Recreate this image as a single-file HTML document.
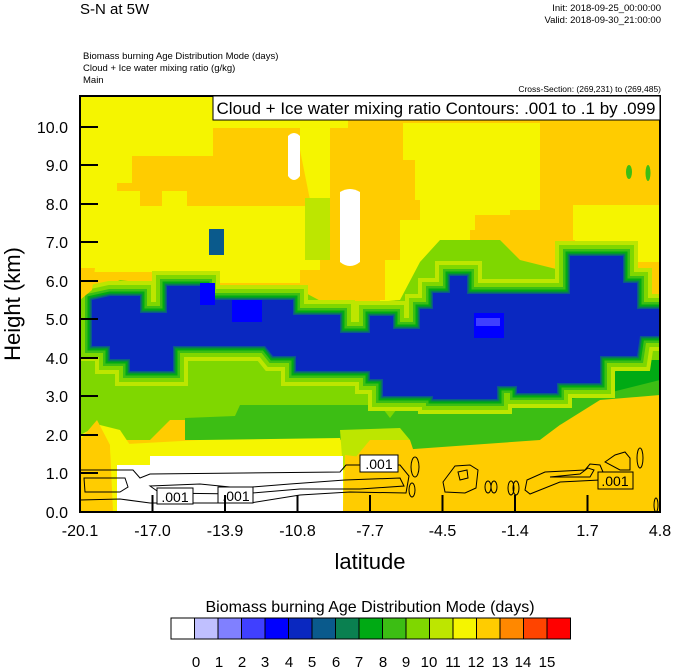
<!DOCTYPE html>
<html><head><meta charset="utf-8"><style>
html,body{margin:0;padding:0;background:#fff;}
svg{display:block;font-family:"Liberation Sans",sans-serif;}
</style></head><body>
<svg width="674" height="668" viewBox="0 0 674 668" xmlns="http://www.w3.org/2000/svg">
<defs><clipPath id="pc"><rect x="80" y="96" width="580" height="416"/></clipPath>
<path id="b" d="M92 316L92 300L110 296L140 296L140 313L167 313L167 286L205 286L205 300L293 300L293 315L340 315L340 333L370 333L370 316L393 316L393 329L420 329L420 309L433 309L433 293L450 293L450 276L467 276L467 294L570 294L570 256L623 256L623 283L637 283L637 309L660 309L660 336L640 336L637 356L600 356L600 383L557 383L557 393L517 393L517 386L497 386L497 399L433 399L433 396L383 396L383 379L370 379L370 371L296 371L296 356L273 356L265 346L173 346L173 371L130 371L130 359L110 359L110 346L92 346Z"/>
</defs>
<text x="80" y="14" font-size="15">S-N at 5W</text>
<text x="661" y="11" font-size="9.5" text-anchor="end">Init: 2018-09-25_00:00:00</text>
<text x="661" y="23" font-size="9.5" text-anchor="end">Valid: 2018-09-30_21:00:00</text>
<text x="83" y="59" font-size="9.5">Biomass burning Age Distribution Mode   (days)</text>
<text x="83" y="71" font-size="9.5">Cloud + Ice water mixing ratio   (g/kg)</text>
<text x="83" y="83" font-size="9.5">Main</text>
<text x="661" y="92" font-size="8.5" text-anchor="end">Cross-Section: (269,231) to (269,485)</text>

<g clip-path="url(#pc)">
<rect x="80" y="96" width="580" height="416" fill="#ffcc00"/>
<path fill="#f5f500" d="M80 96H348V126H300V128H213V156H132V183H117V191H140V206H162V191H187V206H307V230H320V270H300V283H180V272H80Z"/>
<path fill="#f5f500" d="M290 96H348V128H330V150H300V126Z"/>
<path fill="#f5f500" d="M300 150H330V240H318Z"/>
<path fill="#f5f500" d="M403 123H540V210H510V215H475V230H470V250H440V262H420V300H395V330H380V300H385V260H400V220H420V200H415V160H403Z"/>
<path fill="#f5f500" d="M573 205H660V262H575V240H573Z"/>
<path fill="#bde600" d="M305 198H330V260H305Z"/>
<path d="M80 320L80 440L150 440L170 420L370 420L380 410L400 440L440 440L540 430L560 410L600 400L610 380L660 370L660 330L640 330L600 320L560 270L520 260L500 240L440 240L420 262L400 300L330 306L300 290L260 286L200 290L120 280L80 300Z" fill="#7fd700"/>
<path d="M185 418L235 416L240 405L380 405L390 418L400 405L420 400L440 410L480 408L520 400L560 398L600 390L620 375L660 372L660 400L600 410L560 425L540 440L470 445L400 450L370 440L185 440Z" fill="#3cbe14"/>
<path d="M520 383L600 383L630 360L660 360L660 380L600 395L560 400L520 395Z" fill="#00aa14"/>
<use href="#b" fill="none" stroke="#bde600" stroke-width="30"/>
<use href="#b" fill="none" stroke="#7fd700" stroke-width="22"/>
<use href="#b" fill="none" stroke="#3cbe14" stroke-width="14"/>
<use href="#b" fill="none" stroke="#00aa14" stroke-width="9"/>
<use href="#b" fill="none" stroke="#0a8050" stroke-width="5"/>
<use href="#b" fill="none" stroke="#0a5a8c" stroke-width="2.5"/>
<use href="#b" fill="#0a28c0" stroke="none"/>
<path d="M80 268L95 268L92 290L80 300Z" fill="#ffcc00"/>
<path d="M209 229H224V255H209Z" fill="#0a5a8c"/>
<path d="M200 283H215V305H200Z" fill="#0000ff"/>
<path d="M232 300H262V322H232Z" fill="#0000ff"/>
<path d="M474 313H504V338H474Z" fill="#0000ff"/>
<path d="M476 318H500V326H476Z" fill="#4040ff"/>
<path d="M600 400L660 395L660 512L540 512L540 440L560 425Z" fill="#ffcc00"/>
<path d="M80 435L100 425L120 430L130 445L80 470Z" fill="#f5f500"/>
<path d="M80 440L97 420L110 445L113 512L80 512Z" fill="#ffcc00"/>
<path d="M110 445L200 440L340 438L345 460L343 512L113 512Z" fill="#f5f500"/>
<path d="M340 430L400 428L410 440L400 455L380 470L343 470Z" fill="#bde600"/>
<path d="M370 440L410 440L420 470L400 512L343 512L345 470Z" fill="#ffcc00"/>
<path d="M345 455L385 460L385 512L345 512Z" fill="#ffcc00"/>
<path d="M117 465L150 465L150 456L343 456L343 512L117 512Z" fill="#fff"/>
<path d="M288 136Q294 130 300 136V176Q294 184 288 176Z" fill="#fff"/>
<path d="M340 192Q350 186 360 192V262Q350 270 340 262Z" fill="#fff"/>
<ellipse cx="629" cy="172" rx="3" ry="7" fill="#3cbe14"/>
<ellipse cx="648" cy="173" rx="2.5" ry="8" fill="#3cbe14"/>
<g fill="none" stroke="#000" stroke-width="1">
<path d="M80 470H133L140 478L150 474L340 472L346 465H400L409 476L406 493L350 492L300 495L250 503L150 503L120 499L80 500"/>
<path d="M84 478H125L128 487L120 492H85Z"/>
<path d="M150 486L200 484L240 488L290 484L345 480L400 478L404 486L360 489L300 489L240 494L160 493Z"/>
<ellipse cx="415" cy="467" rx="4" ry="10"/>
<ellipse cx="412" cy="490" rx="3" ry="7"/>
<path d="M443 482L455 466L470 465L478 470L476 488L465 493L445 492Z"/>
<path d="M458 472L467 470L468 478L460 480Z"/>
<ellipse cx="488" cy="487" rx="3" ry="6"/><ellipse cx="494" cy="487" rx="3" ry="6"/>
<ellipse cx="511" cy="488" rx="3" ry="7"/><ellipse cx="516" cy="488" rx="3" ry="7"/>
<path d="M527 480L545 472L585 470L590 464L600 465L603 472L600 480L560 482L530 494L525 490Z"/>
<path d="M550 477L580 474L588 468L594 470L590 477Z"/>
<path d="M605 462L615 455L625 452L630 458L630 470L620 470Z"/>
<ellipse cx="640" cy="458" rx="3" ry="10"/>
<ellipse cx="656" cy="505" rx="2" ry="7"/>
</g>
<g font-size="14" text-anchor="middle">
<rect x="157" y="488" width="36" height="16" fill="#fff" stroke="#000"/><text x="175" y="502">.001</text>
<rect x="218" y="487" width="35" height="16" fill="#fff" stroke="#000"/><text x="236" y="501">.001</text>
<rect x="360" y="455" width="38" height="17" fill="#fff" stroke="#000"/><text x="379" y="469">.001</text>
<rect x="598" y="472" width="35" height="17" fill="#ffcc00" stroke="#000"/><text x="615" y="486">.001</text>
</g>
</g>
<rect x="80" y="96" width="580" height="416" fill="none" stroke="#000" stroke-width="2"/>
<rect x="213" y="96" width="447" height="24" fill="#fff" stroke="#000" stroke-width="1"/>
<text x="436" y="114" font-size="17" text-anchor="middle">Cloud + Ice water mixing ratio Contours: .001 to .1 by .099</text>
<g stroke="#000" stroke-width="2">
<path d="M80 127H98M80 165H98M80 204H98M80 242H98M80 281H98M80 319H98M80 358H98M80 396H98M80 435H98M80 473H98"/>
<path d="M152.5 512V495M225 512V495M297.5 512V495M370 512V495M442.5 512V495M515 512V495M587.5 512V495"/>
</g>
<g font-size="16" text-anchor="end">
<text x="68" y="133">10.0</text><text x="68" y="171">9.0</text><text x="68" y="210">8.0</text><text x="68" y="248">7.0</text><text x="68" y="287">6.0</text><text x="68" y="325">5.0</text><text x="68" y="364">4.0</text><text x="68" y="402">3.0</text><text x="68" y="441">2.0</text><text x="68" y="479">1.0</text><text x="68" y="518">0.0</text>
</g>
<g font-size="16" text-anchor="middle">
<text x="80" y="536">-20.1</text><text x="152.5" y="536">-17.0</text><text x="225" y="536">-13.9</text><text x="297.5" y="536">-10.8</text><text x="370" y="536">-7.7</text><text x="442.5" y="536">-4.5</text><text x="515" y="536">-1.4</text><text x="587.5" y="536">1.7</text><text x="660" y="536">4.8</text>
</g>
<text x="370" y="569" font-size="22" text-anchor="middle">latitude</text>
<text transform="translate(20,304) rotate(-90)" font-size="22" text-anchor="middle">Height (km)</text>
<text x="370" y="612" font-size="16" text-anchor="middle">Biomass burning Age Distribution Mode  (days)</text>
<g stroke="#000" stroke-width="1">
<rect x="171" y="618" width="23.5" height="21" fill="#ffffff"/>
<rect x="194.5" y="618" width="23.5" height="21" fill="#c0c0ff"/>
<rect x="218" y="618" width="23.5" height="21" fill="#8080ff"/>
<rect x="241.5" y="618" width="23.5" height="21" fill="#4040ff"/>
<rect x="265" y="618" width="23.5" height="21" fill="#0000ff"/>
<rect x="288.5" y="618" width="23.5" height="21" fill="#0a28c0"/>
<rect x="312" y="618" width="23.5" height="21" fill="#0a5a8c"/>
<rect x="335.5" y="618" width="23.5" height="21" fill="#0a8050"/>
<rect x="359" y="618" width="23.5" height="21" fill="#00aa14"/>
<rect x="382.5" y="618" width="23.5" height="21" fill="#3cbe14"/>
<rect x="406" y="618" width="23.5" height="21" fill="#7fd700"/>
<rect x="429.5" y="618" width="23.5" height="21" fill="#bde600"/>
<rect x="453" y="618" width="23.5" height="21" fill="#f5f500"/>
<rect x="476.5" y="618" width="23.5" height="21" fill="#ffcc00"/>
<rect x="500" y="618" width="23.5" height="21" fill="#ff8800"/>
<rect x="523.5" y="618" width="23.5" height="21" fill="#ff4400"/>
<rect x="547" y="618" width="23.5" height="21" fill="#ff0000"/>
</g>
<g font-size="15" text-anchor="middle">
<text x="196" y="667">0</text><text x="219" y="667">1</text><text x="242" y="667">2</text><text x="265" y="667">3</text><text x="289" y="667">4</text><text x="312" y="667">5</text><text x="336" y="667">6</text><text x="359" y="667">7</text><text x="383" y="667">8</text><text x="406" y="667">9</text><text x="429" y="667">10</text><text x="453" y="667">11</text><text x="476" y="667">12</text><text x="500" y="667">13</text><text x="523" y="667">14</text><text x="547" y="667">15</text>
</g>
</svg>
</body></html>
